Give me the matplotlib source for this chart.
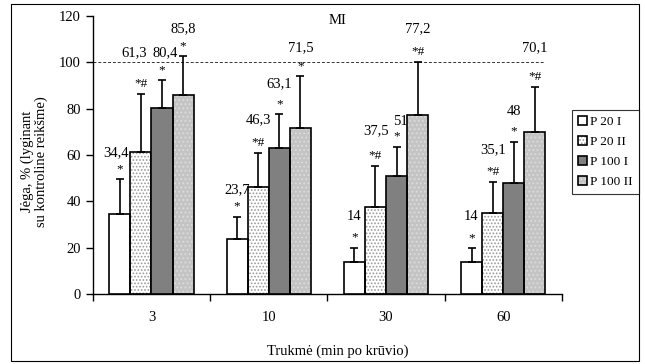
import numpy as np
import matplotlib
matplotlib.use('Agg')
import matplotlib.pyplot as plt
from matplotlib.patches import Rectangle, Patch

plt.rcParams['font.family'] = ['Liberation Serif', 'DejaVu Serif']

# data
categories = ['3', '10', '30', '60']
series = ['P 20 I', 'P 20 II', 'P 100 I', 'P 100 II']
means = [
    [34.4, 23.7, 14, 14],
    [61.3, 46.3, 37.5, 35.1],
    [80.4, 63.1, 51, 48],
    [85.8, 71.5, 77.2, 70.1],
]
err_top = [
    [49.6, 33.3, 20.0, 19.8],
    [86.2, 60.9, 55.2, 48.4],
    [92.2, 77.6, 63.6, 65.7],
    [102.7, 94.0, 100.0, 89.4],
]
value_labels = [
    ['34,4', '23,7', '14', '14'],
    ['61,3', '46,3', '37,5', '35,1'],
    ['80,4', '63,1', '51', '48'],
    ['85,8', '71,5', '77,2', '70,1'],
]
marks = [
    ['*', '*', '*', '*'],
    ['*#', '*#', '*#', '*#'],
    ['*', '*', '*', '*'],
    ['*', '*', '*#', '*#'],
]

# nudges (px) of each number from its usual spot
label_dy = [
    [-1, 0, 4, 4],
    [14, 6, 8, 5],
    [0, 3, -2, 3],
    [0, 1, 6, 12],
]
label_dx = [
    [-4, 0, 0, 0],
    [-7, 0, 1, 0],
    [3, 0, 4, 0],
    [0, 0, 0, 0],
]

faces = ['white', 'white', '#808080', '#c4c4c4']
hatches = [None, '.....', None, '....']
hatch_cols = ['white', '#9a9a9a', '#808080', '#dcdcdc']

fig = plt.figure(figsize=(6.45, 3.64), dpi=100)
ax = fig.add_axes([0.144, 0.192, 0.727, 0.764])

x = np.arange(len(categories))
w = 0.18
offs = (np.arange(4) - 1.5) * w
px = 72 / 100  # points per pixel

handles = []
for i in range(4):
    xs = x + offs[i]
    if hatches[i]:
        plt.rcParams['hatch.color'] = hatch_cols[i]
        plt.rcParams['hatch.linewidth'] = 0.8
        ax.bar(xs, means[i], width=w, color=faces[i], hatch=hatches[i],
               edgecolor=hatch_cols[i], linewidth=0, zorder=2)
        ax.bar(xs, means[i], width=w, fill=False, edgecolor='black',
               linewidth=1.2, zorder=3)
        h1 = Patch(facecolor=faces[i], hatch=hatches[i],
                   edgecolor=hatch_cols[i], linewidth=0)
        h2 = Patch(fill=False, edgecolor='black', linewidth=1.2)
        handles.append((h1, h2))
    else:
        ax.bar(xs, means[i], width=w, color=faces[i], edgecolor='black',
               linewidth=1.2, zorder=3)
        handles.append(Patch(facecolor=faces[i], edgecolor='black',
                             linewidth=1.2))
    up = np.array(err_top[i]) - np.array(means[i])
    ax.errorbar(xs, means[i], yerr=[np.zeros(4), up], fmt='none',
                ecolor='black', elinewidth=1.2, capsize=3, capthick=1.2,
                zorder=4)
    for j in range(4):
        ax.annotate(marks[i][j], (xs[j], err_top[i][j]), xytext=(0, 3),
                    textcoords='offset points', ha='center', va='bottom',
                    fontsize=9.5)
        ax.annotate(value_labels[i][j], (xs[j], err_top[i][j]),
                    xytext=(label_dx[i][j] * px, 15 + label_dy[i][j] * px),
                    textcoords='offset points', ha='center', va='bottom',
                    fontsize=10.5)

ax.hlines(100, -0.5, 3 + 1.5 * w + w / 2, colors='#333333',
          linestyles=(0, (3, 2)), linewidth=0.7, zorder=1)

ax.set_xlim(-0.5, 3.5)
ax.set_ylim(0, 120)
ax.set_yticks(np.arange(0, 121, 20))
ax.set_xticks(x)
ax.set_xticklabels(categories)
ax.set_xticks(np.arange(-0.5, 3.6, 1), minor=True)
ax.tick_params(axis='x', which='major', length=0, pad=12, labelsize=10.5)
ax.tick_params(axis='x', which='minor', length=5, width=1, direction='out')
ax.tick_params(axis='y', length=5, width=1, labelsize=10.5)
ax.spines['top'].set_visible(False)
ax.spines['right'].set_visible(False)
for s in ['left', 'bottom']:
    ax.spines[s].set_linewidth(1)

ax.set_xlabel('Trukmė (min po krūvio)', fontsize=10.5)
ax.xaxis.set_label_coords(0.523, -0.18)
ax.set_ylabel('Jėga, % (lyginant\nsu kontroline reikšme)', fontsize=10.5,
              linespacing=1.0)
ax.yaxis.set_label_coords(-0.096, 0.478)
ax.text(1.59, 118, 'MI', ha='center', va='center', fontsize=10.5)

leg = fig.legend(handles, series, loc='upper left',
                 bbox_to_anchor=(572 / 645, 1 - 110 / 364),
                 fontsize=9.5, frameon=True, fancybox=False,
                 edgecolor='black', handlelength=0.7, handleheight=0.7,
                 handletextpad=0.25, borderpad=0.45, labelspacing=0.58,
                 borderaxespad=0)
leg.get_frame().set_linewidth(0.8)

fig.patches.append(Rectangle((11 / 645, 1 - 361 / 364), 628 / 645, 357 / 364,
                             transform=fig.transFigure, fill=False,
                             edgecolor='black', linewidth=0.8))

fig.savefig('out.png', dpi=100)
